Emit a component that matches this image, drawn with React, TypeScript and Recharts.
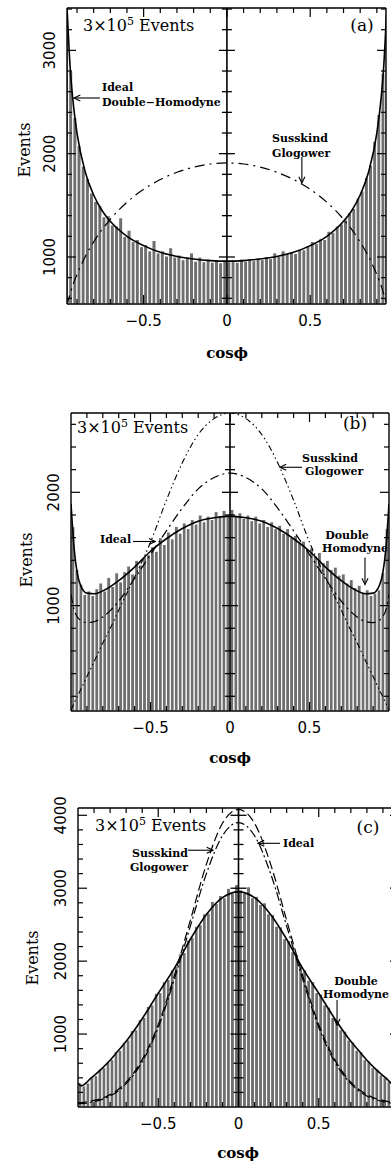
import React from "react"
import { ComposedChart, Bar, Line, XAxis, YAxis, ReferenceLine } from "recharts"

// histogram bin centres (bin width 0.025)
const binCenters = [
  -0.9875, -0.9625, -0.9375, -0.9125, -0.8875, -0.8625, -0.8375, -0.8125, -0.7875, -0.7625,
  -0.7375, -0.7125, -0.6875, -0.6625, -0.6375, -0.6125, -0.5875, -0.5625, -0.5375, -0.5125,
  -0.4875, -0.4625, -0.4375, -0.4125, -0.3875, -0.3625, -0.3375, -0.3125, -0.2875, -0.2625,
  -0.2375, -0.2125, -0.1875, -0.1625, -0.1375, -0.1125, -0.0875, -0.0625, -0.0375, -0.0125,
  0.0125, 0.0375, 0.0625, 0.0875, 0.1125, 0.1375, 0.1625, 0.1875, 0.2125, 0.2375,
  0.2625, 0.2875, 0.3125, 0.3375, 0.3625, 0.3875, 0.4125, 0.4375, 0.4625, 0.4875,
  0.5125, 0.5375, 0.5625, 0.5875, 0.6125, 0.6375, 0.6625, 0.6875, 0.7125, 0.7375,
  0.7625, 0.7875, 0.8125, 0.8375, 0.8625, 0.8875, 0.9125, 0.9375, 0.9625, 0.9875,
]

// (a) event counts per bin
const histA = [
  3400, 3300, 2800, 2350, 2080, 1880, 1760, 1620, 1540, 1500,
  1390, 1400, 1310, 1300, 1380, 1200, 1260, 1150, 1170, 1100,
  1120, 1060, 1160, 1040, 1060, 1010, 1090, 1000, 1020, 975,
  1000, 1040, 960, 1000, 955, 980, 950, 975, 945, 970,
  955, 975, 950, 980, 960, 985, 965, 990, 975, 1005,
  985, 1040, 1005, 1060, 1025, 1050, 1035, 1075, 1070, 1110,
  1150, 1130, 1175, 1170, 1250, 1240, 1300, 1320, 1360, 1430,
  1470, 1570, 1640, 1770, 1890, 2120, 2380, 2780, 3350, 3400,
]

// (b)
const histB = [
  1700, 1320, 1190, 1100, 1130, 1090, 1150, 1200, 1130, 1250,
  1170, 1290, 1210, 1300, 1350, 1280, 1400, 1360, 1430, 1450,
  1520, 1480, 1600, 1540, 1650, 1590, 1700, 1640, 1730, 1680,
  1760, 1720, 1800, 1740, 1790, 1760, 1830, 1780, 1840, 1800,
  1850, 1790, 1820, 1770, 1800, 1750, 1790, 1730, 1760, 1700,
  1740, 1680, 1710, 1640, 1680, 1600, 1620, 1560, 1570, 1500,
  1510, 1440, 1470, 1380, 1400, 1320, 1340, 1270, 1280, 1200,
  1230, 1160, 1180, 1120, 1140, 1090, 1110, 1140, 1290, 1680,
]

// (c)
const histC = [
  330, 290, 330, 420, 430, 520, 540, 620, 650, 760,
  780, 880, 920, 1050, 1060, 1200, 1230, 1380, 1400, 1560,
  1570, 1720, 1750, 1880, 1930, 2100, 2120, 2290, 2330, 2480,
  2500, 2650, 2660, 2820, 2790, 2900, 2870, 3000, 2930, 3050,
  2980, 2930, 3020, 2870, 2890, 2780, 2800, 2650, 2640, 2480,
  2470, 2310, 2280, 2130, 2090, 1920, 1880, 1740, 1720, 1570,
  1550, 1400, 1370, 1230, 1190, 1060, 1040, 920, 890, 780,
  760, 650, 630, 540, 520, 440, 410, 350, 320, 340,
]

// theory curves
const curveXA = [
  -0.96, -0.94, -0.92, -0.9, -0.85, -0.8, -0.75, -0.7, -0.6, -0.5, -0.4, -0.3, -0.2, -0.1, 0,
  0.1, 0.2, 0.3, 0.4, 0.5, 0.6, 0.7, 0.75, 0.8, 0.85, 0.9, 0.92, 0.94, 0.96,
]
const doubleHomodyneA = [
  3420, 2810, 2450, 2200, 1820, 1600, 1450, 1345, 1200, 1110, 1045, 1005, 980, 965, 960,
  965, 980, 1005, 1045, 1110, 1200, 1345, 1450, 1600, 1820, 2200, 2450, 2810, 3420,
]
const susskindA = [
  535, 650, 750, 830, 1005, 1145, 1265, 1365, 1530, 1655, 1750, 1820, 1870, 1900, 1910,
  1900, 1870, 1820, 1750, 1655, 1530, 1365, 1265, 1145, 1005, 830, 750, 650, 535,
]

const curveX = [
  -1, -0.98, -0.96, -0.94, -0.92, -0.9, -0.85, -0.8, -0.75, -0.7, -0.6, -0.5, -0.4, -0.3, -0.2, -0.1, 0,
  0.1, 0.2, 0.3, 0.4, 0.5, 0.6, 0.7, 0.75, 0.8, 0.85, 0.9, 0.92, 0.94, 0.96, 0.98, 1,
]
const doubleHomodyneB = [
  1900, 1500, 1280, 1180, 1130, 1110, 1105, 1130, 1170, 1220, 1340, 1480, 1590, 1680, 1745, 1775, 1790,
  1775, 1745, 1680, 1590, 1480, 1340, 1220, 1170, 1130, 1105, 1110, 1130, 1180, 1280, 1500, 1900,
]
const idealB = [
  1100, 960, 900, 870, 855, 850, 860, 900, 960, 1040, 1240, 1450, 1660, 1860, 2030, 2130, 2170,
  2130, 2030, 1860, 1660, 1450, 1240, 1040, 960, 900, 860, 850, 855, 870, 900, 960, 1100,
]
const susskindB = [
  80, 140, 200, 255, 315, 375, 520, 670, 810, 960, 1250, 1560, 1930, 2260, 2510, 2650, 2700,
  2650, 2510, 2260, 1930, 1560, 1250, 960, 810, 670, 520, 375, 315, 255, 200, 140, 80,
]
const doubleHomodyneC = [
  330, 290, 310, 350, 395, 430, 530, 640, 770, 900, 1210, 1560, 1900, 2300, 2640, 2870, 2950,
  2870, 2640, 2300, 1900, 1560, 1210, 900, 770, 640, 530, 430, 395, 350, 310, 290, 330,
]
const susskindC = [
  60, 60, 65, 70, 80, 90, 120, 170, 240, 340, 650, 1130, 1800, 2560, 3330, 3890, 4080,
  3890, 3330, 2560, 1800, 1130, 650, 340, 240, 170, 120, 90, 80, 70, 65, 60, 60,
]
const idealC = [
  45, 45, 50, 55, 65, 75, 105, 150, 220, 320, 620, 1090, 1750, 2480, 3200, 3720, 3900,
  3720, 3200, 2480, 1750, 1090, 620, 320, 220, 150, 105, 75, 65, 55, 50, 45, 45,
]

// axis ticks
const xTicks = [-0.9, -0.8, -0.7, -0.6, -0.5, -0.4, -0.3, -0.2, -0.1, 0, 0.1, 0.2, 0.3, 0.4, 0.5, 0.6, 0.7, 0.8, 0.9]
const xLabelTicks = [-0.5, 0, 0.5]
const yTicksA = [600, 800, 1000, 1200, 1400, 1600, 1800, 2000, 2200, 2400, 2600, 2800, 3000, 3200, 3400]
const yTicksB = [200, 400, 600, 800, 1000, 1200, 1400, 1600, 1800, 2000, 2200, 2400, 2600]
const yTicksC = [200, 400, 600, 800, 1000, 1200, 1400, 1600, 1800, 2000, 2200, 2400, 2600, 2800, 3000, 3200, 3400, 3600, 3800, 4000]
const yLabelsA = [1000, 2000, 3000]
const yLabelsB = [1000, 2000]
const yLabelsC = [1000, 2000, 3000, 4000]

const SERIF = '"DejaVu Serif", serif'
const SANS = '"DejaVu Sans", sans-serif'

const fmtX = (v: number) => (v < 0 ? `\u2212${Math.abs(v)}` : `${v}`)

type Curve = { values: number[]; dash?: string; width: number }
type ArrowDef = { from: [number, number]; to: [number, number] }

const ArrowShape = (p: any) => {
  const { x1, y1, x2, y2 } = p
  const a = Math.atan2(y2 - y1, x2 - x1)
  const L = 7
  const w = 0.45
  const pts = `${x2 - L * Math.cos(a - w)},${y2 - L * Math.sin(a - w)} ${x2},${y2} ${x2 - L * Math.cos(a + w)},${y2 - L * Math.sin(a + w)}`
  return (
    <g stroke="#000" strokeWidth={1.1} fill="none">
      <line x1={x1} y1={y1} x2={x2} y2={y2} />
      <polyline points={pts} />
    </g>
  )
}

interface PanelProps {
  top: number
  plotLeft: number
  plotRight: number
  plotHeight: number
  xDomain: [number, number]
  yDomain: [number, number]
  hist: number[]
  cx: number[]
  curves: Curve[]
  yTicks: number[]
  yLabels: number[]
  arrows: ArrowDef[]
}

function Panel({ top, plotLeft, plotRight, plotHeight, xDomain, yDomain, hist, cx, curves, yTicks, yLabels, arrows }: PanelProps) {
  const topH = 30
  const width = plotRight + 5
  const height = topH + plotHeight + 30
  const pxPerX = (plotRight - plotLeft) / (xDomain[1] - xDomain[0])
  const binPx = 0.025 * pxPerX
  const histData = binCenters.map((x, i) => ({ x, h: hist[i] }))

  const tickLen = (major: boolean) => (major ? 9 : 5)

  return (
    <div style={{ position: "absolute", left: 0, top: top - topH }}>
      <ComposedChart width={width} height={height} data={histData} margin={{ top: 0, right: 0, bottom: 0, left: 0 }}>
        <XAxis
          xAxisId="b"
          dataKey="x"
          type="number"
          domain={xDomain}
          allowDataOverflow
          ticks={xTicks}
          interval={0}
          height={30}
          tickLine={false}
          tickSize={0}
          tickMargin={0}
          axisLine={{ stroke: "#000", strokeWidth: 1.4 }}
          tick={(p: any) => {
            const v = p.payload.value
            const major = xLabelTicks.includes(v)
            return (
              <g>
                <line x1={p.x} y1={p.y} x2={p.x} y2={p.y - tickLen(major)} stroke="#000" strokeWidth={1.2} />
                {major && (
                  <text x={p.x} y={p.y + 17} textAnchor="middle" dominantBaseline="central" fontFamily={SANS} fontSize={15} fill="#000">
                    {fmtX(v)}
                  </text>
                )}
              </g>
            )
          }}
        />
        <XAxis
          xAxisId="t"
          orientation="top"
          dataKey="x"
          type="number"
          domain={xDomain}
          allowDataOverflow
          ticks={xTicks}
          interval={0}
          height={topH}
          tickLine={false}
          tickSize={0}
          tickMargin={0}
          axisLine={{ stroke: "#000", strokeWidth: 1.4 }}
          tick={(p: any) => {
            const major = xLabelTicks.includes(p.payload.value)
            return <line x1={p.x} y1={p.y} x2={p.x} y2={p.y + tickLen(major)} stroke="#000" strokeWidth={1.2} />
          }}
        />
        <YAxis
          yAxisId="l"
          type="number"
          domain={yDomain}
          allowDataOverflow
          ticks={yTicks}
          interval={0}
          width={plotLeft}
          tickLine={false}
          tickSize={0}
          tickMargin={0}
          axisLine={{ stroke: "#000", strokeWidth: 1.4 }}
          tick={(p: any) => {
            const v = p.payload.value
            const major = v % 1000 === 0
            const tx = p.x - 17
            return (
              <g>
                <line x1={p.x} y1={p.y} x2={p.x + tickLen(major)} y2={p.y} stroke="#000" strokeWidth={1.2} />
                {yLabels.includes(v) && (
                  <text
                    x={tx}
                    y={p.y}
                    transform={`rotate(-90 ${tx} ${p.y})`}
                    textAnchor="middle"
                    dominantBaseline="central"
                    fontFamily={SANS}
                    fontSize={15}
                    fill="#000"
                  >
                    {v}
                  </text>
                )}
              </g>
            )
          }}
        />
        <YAxis
          yAxisId="r"
          orientation="right"
          type="number"
          domain={yDomain}
          allowDataOverflow
          ticks={yTicks}
          interval={0}
          width={5}
          tickLine={false}
          tickSize={0}
          tickMargin={0}
          axisLine={{ stroke: "#000", strokeWidth: 1.4 }}
          tick={(p: any) => {
            const major = p.payload.value % 1000 === 0
            return <line x1={p.x} y1={p.y} x2={p.x - tickLen(major)} y2={p.y} stroke="#000" strokeWidth={1.2} />
          }}
        />
        <Bar
          dataKey="h"
          xAxisId="b"
          yAxisId="l"
          barSize={binPx}
          isAnimationActive={false}
          shape={(p: any) => {
            const mid = p.x + p.width / 2
            return (
              <rect
                x={mid - binPx / 2}
                y={p.y}
                width={binPx}
                height={Math.max(0, p.height)}
                fill="#6f6f6f"
                stroke="#ffffff"
                strokeWidth={1.1}
              />
            )
          }}
        />
        <ReferenceLine x={0} xAxisId="b" yAxisId="l" stroke="#000" strokeWidth={1.6} />
        {yTicks.map((v) => {
          const d = (v % 1000 === 0 ? 8 : 5) / pxPerX
          return (
            <ReferenceLine
              key={`c${v}`}
              xAxisId="b"
              yAxisId="l"
              segment={[{ x: -d, y: v }, { x: d, y: v }]}
              stroke="#000"
              strokeWidth={1.3}
            />
          )
        })}
        {curves.map((c, i) => (
          <Line
            key={`l${i}`}
            data={cx.map((x, j) => ({ x, v: c.values[j] }))}
            dataKey="v"
            xAxisId="b"
            yAxisId="l"
            type="monotone"
            dot={false}
            activeDot={false}
            stroke="#000"
            strokeWidth={c.width}
            strokeDasharray={c.dash}
            isAnimationActive={false}
          />
        ))}
        {arrows.map((a, i) => (
          <ReferenceLine
            key={`a${i}`}
            xAxisId="b"
            yAxisId="l"
            segment={[{ x: a.from[0], y: a.from[1] }, { x: a.to[0], y: a.to[1] }]}
            shape={ArrowShape}
          />
        ))}
      </ComposedChart>
    </div>
  )
}

const Txt = ({ x, y, children, size = 11, bold = true, anchor = "left", rotate = false, family = SERIF }: any) => (
  <div
    style={{
      position: "absolute",
      left: x,
      top: y,
      transform: `translate(${anchor === "center" ? "-50%" : "0"}, -50%)${rotate ? " rotate(-90deg)" : ""}`,
      transformOrigin: "center",
      fontFamily: family,
      fontSize: size,
      fontWeight: bold ? 700 : 400,
      whiteSpace: "nowrap",
      lineHeight: 1,
      color: "#000",
    }}
  >
    {children}
  </div>
)

const EventsTag = ({ x, y }: { x: number; y: number }) => (
  <Txt x={x} y={y} size={16} bold={false}>
    3×10<sup style={{ fontSize: 11, verticalAlign: "6px" }}>5</sup> Events
  </Txt>
)

export default function App() {
  return (
    <div style={{ position: "absolute", left: 0, top: 0, width: 391, height: 1165, overflow: "hidden", background: "#fff" }}>
      <Panel
        top={8}
        plotLeft={67}
        plotRight={386}
        plotHeight={296}
        xDomain={[-0.96, 0.955]}
        yDomain={[545, 3410]}
        hist={histA}
        cx={curveXA}
        curves={[
          { values: doubleHomodyneA, width: 1.6 },
          { values: susskindA, dash: "10 5 2 5", width: 1.2 },
        ]}
        yTicks={yTicksA}
        yLabels={yLabelsA}
        arrows={[
          { from: [-0.762, 2539], to: [-0.918, 2539] },
          { from: [0.45, 1968], to: [0.45, 1716] },
        ]}
      />
      <Panel
        top={413}
        plotLeft={71}
        plotRight={389}
        plotHeight={298}
        xDomain={[-1, 1]}
        yDomain={[70, 2700]}
        hist={histB}
        cx={curveX}
        curves={[
          { values: doubleHomodyneB, width: 1.6 },
          { values: idealB, dash: "9 4 2 4", width: 1.2 },
          { values: susskindB, dash: "6 3 1.5 3 1.5 3", width: 1.1 },
        ]}
        yTicks={yTicksB}
        yLabels={yLabelsB}
        arrows={[
          { from: [0.453, 2221], to: [0.314, 2221] },
          { from: [-0.61, 1566], to: [-0.47, 1566] },
          { from: [0.849, 1425], to: [0.849, 1186] },
        ]}
      />
      <Panel
        top={808}
        plotLeft={78}
        plotRight={399}
        plotHeight={299}
        xDomain={[-1, 1]}
        yDomain={[0, 4100]}
        hist={histC}
        cx={curveX}
        curves={[
          { values: doubleHomodyneC, width: 1.6 },
          { values: susskindC, dash: "9 4", width: 1.2 },
          { values: idealC, dash: "9 3 2 3", width: 1.2 },
        ]}
        yTicks={yTicksC}
        yLabels={yLabelsC}
        arrows={[
          { from: [0.259, 3616], to: [0.121, 3616] },
          { from: [-0.315, 3521], to: [-0.159, 3521] },
          { from: [0.614, 1466], to: [0.614, 1123] },
        ]}
      />

      {/* panel (a) text */}
      <EventsTag x={83} y={25} />
      <Txt x={362} y={25} size={17} bold={false} anchor="center">(a)</Txt>
      <Txt x={102} y={87}>Ideal</Txt>
      <Txt x={102} y={102}>Double−Homodyne</Txt>
      <Txt x={272} y={138}>Susskind</Txt>
      <Txt x={272} y={153}>Glogower</Txt>
      <Txt x={25} y={150} size={16} bold={false} anchor="center" rotate>Events</Txt>
      <Txt x={227} y={353} size={15} anchor="center">cosϕ</Txt>

      {/* panel (b) text */}
      <EventsTag x={77} y={427} />
      <Txt x={355} y={423} size={17} bold={false} anchor="center">(b)</Txt>
      <Txt x={302} y={458}>Susskind</Txt>
      <Txt x={305} y={471}>Glogower</Txt>
      <Txt x={100} y={539}>Ideal</Txt>
      <Txt x={347} y={535} anchor="center">Double</Txt>
      <Txt x={355} y={548} anchor="center">Homodyne</Txt>
      <Txt x={27} y={560} size={16} bold={false} anchor="center" rotate>Events</Txt>
      <Txt x={230} y={758} size={15} anchor="center">cosϕ</Txt>

      {/* panel (c) text */}
      <EventsTag x={95} y={825} />
      <Txt x={368} y={827} size={17} bold={false} anchor="center">(c)</Txt>
      <Txt x={283} y={843}>Ideal</Txt>
      <Txt x={160} y={853} anchor="center">Susskind</Txt>
      <Txt x={159} y={867} anchor="center">Glogower</Txt>
      <Txt x={356} y={981} anchor="center">Double</Txt>
      <Txt x={356} y={994} anchor="center">Homodyne</Txt>
      <Txt x={33} y={958} size={16} bold={false} anchor="center" rotate>Events</Txt>
      <Txt x={238} y={1153} size={15} anchor="center">cosϕ</Txt>
    </div>
  )
}
